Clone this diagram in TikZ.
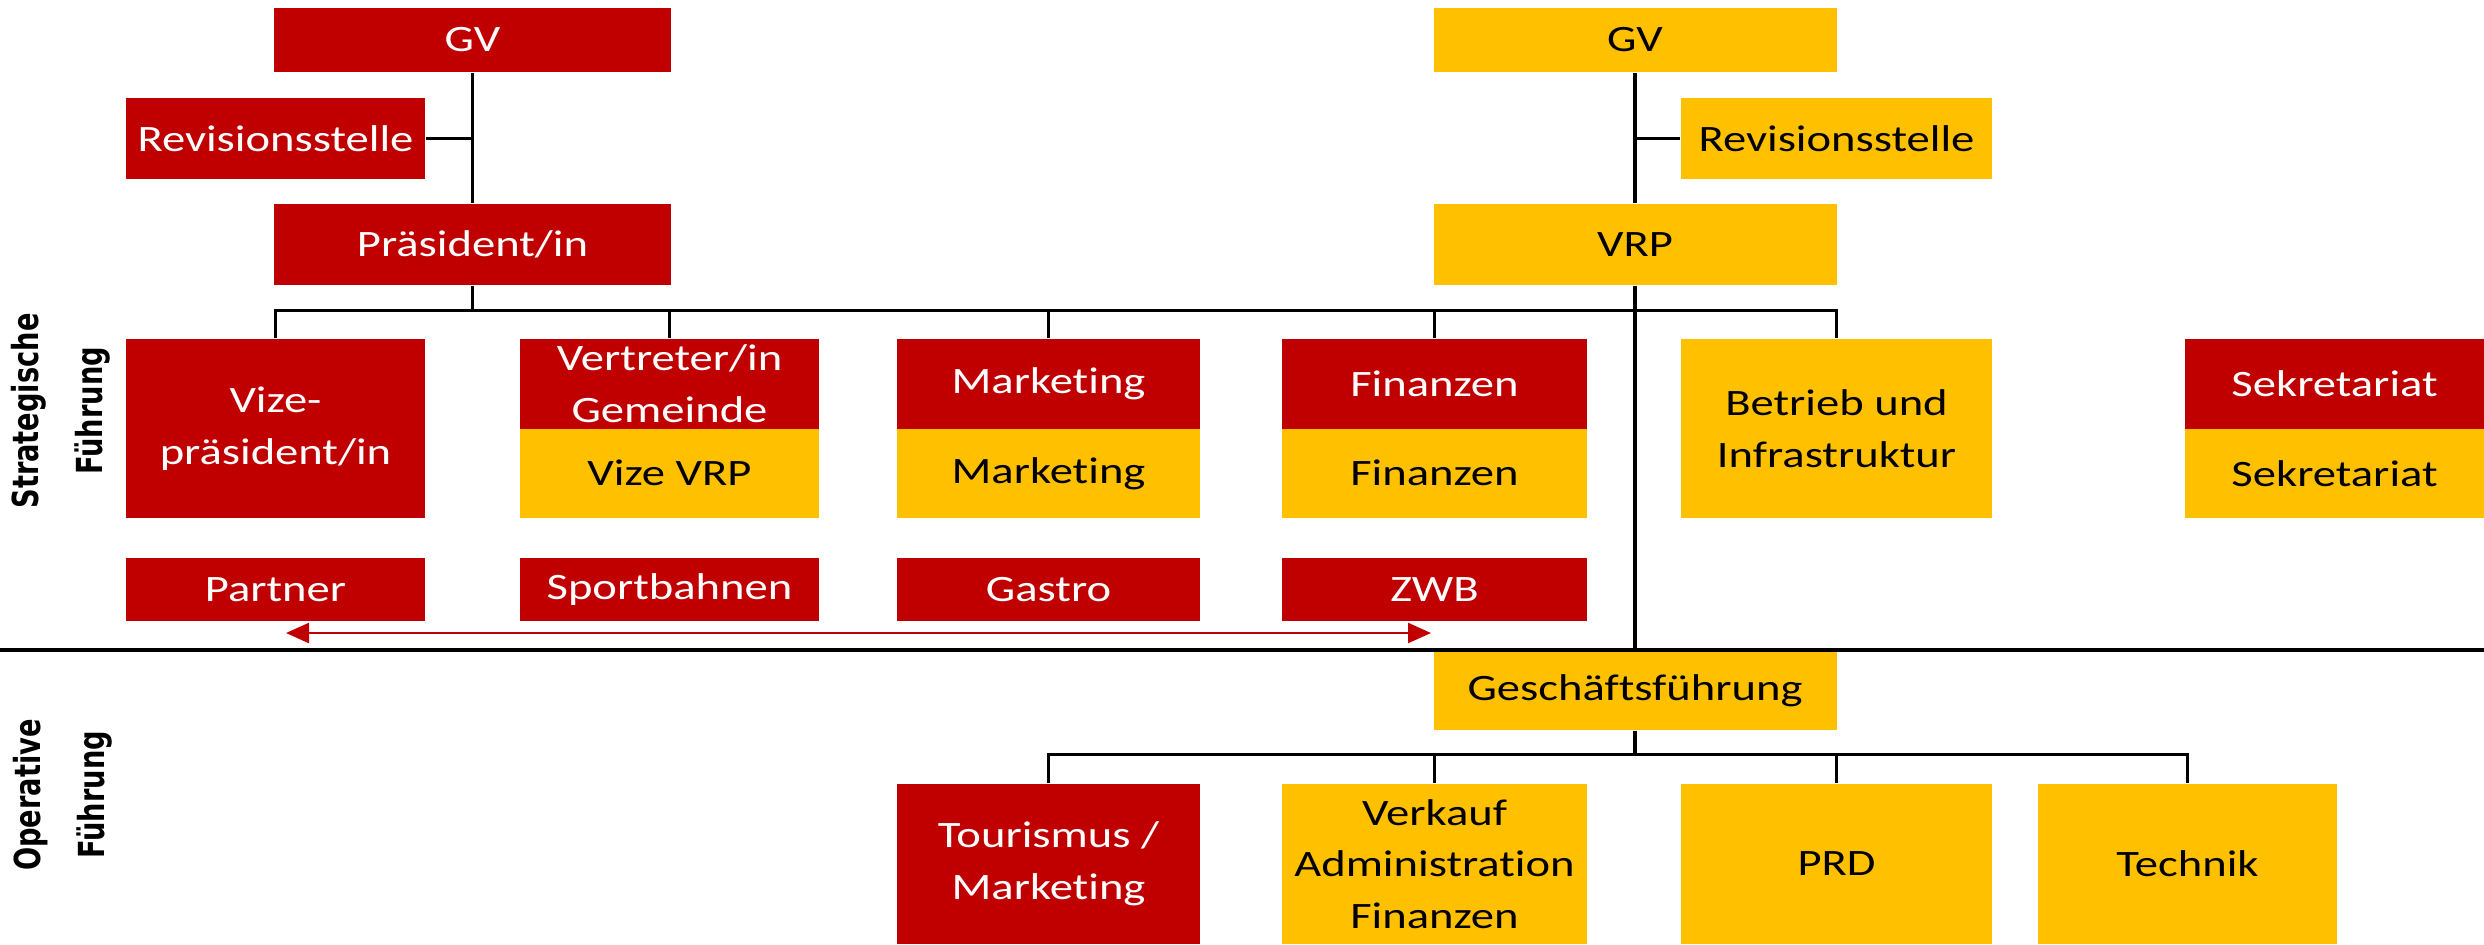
\documentclass[tikz,border=0pt]{standalone}
\usepackage{fontspec}
\setmainfont[FakeStretch=1.25, Ligatures=NoCommon]{Carlito}
\newfontfamily\sidefont[FakeStretch=0.76]{DejaVu Sans}
\usepackage{xcolor}
\usetikzlibrary{arrows.meta}

\definecolor{orgred}{HTML}{C00000}
\definecolor{orgyellow}{HTML}{FFC000}

\tikzset{
  box/.style={rectangle, inner sep=0pt, align=center, font=\fontsize{10.6}{14.7}\selectfont},
  redbox/.style={box, fill=orgred, text=white},
  yellowbox/.style={box, fill=orgyellow, text=black},
  boxw/.style={minimum width=#1*0.01cm},
  boxh/.style={minimum height=#1*0.01cm},
  link/.style={draw=black, line width=1pt},
  sidelabel/.style={rotate=90, align=center, font=\sidefont\bfseries\fontsize{10.2}{18.2}\selectfont},
}

\begin{document}
\begin{tikzpicture}[x=0.01cm, y=-0.01cm]
    \useasboundingbox (0,0) rectangle (2484,944);

    % Left: association
    \node[redbox, boxw=397, boxh=64] (gvL) at (472.5,40) {GV};
    \node[redbox, boxw=299, boxh=81] (revL) at (275.5,138.5) {Revisionsstelle};
    \node[redbox, boxw=397, boxh=81] (praesL) at (472.5,244.5) {Präsident/in};

    % Right: company
    \node[yellowbox, boxw=403, boxh=64] (gvR) at (1635,40) {GV};
    \node[yellowbox, boxw=311, boxh=81] (revR) at (1836.5,138.5) {Revisionsstelle};
    \node[yellowbox, boxw=403, boxh=81] (vrp) at (1635,244.5) {VRP};

    % Board members
    \node[redbox, boxw=299, boxh=179] (vize) at (275.5,428.5) {Vize-\\präsident/in};
    \node[redbox, boxw=299, boxh=89.5] (vertreter) at (669.5,383.75) {Vertreter/in\\Gemeinde};
    \node[yellowbox, boxw=299, boxh=89.5] (vizevrp) at (669.5,473.25) {Vize VRP};
    \node[redbox, boxw=303, boxh=89.5] (marketingA) at (1048.5,383.75) {Marketing};
    \node[yellowbox, boxw=303, boxh=89.5] (marketingB) at (1048.5,473.25) {Marketing};
    \node[redbox, boxw=305, boxh=89.5] (finanzenA) at (1434.5,383.75) {Finanzen};
    \node[yellowbox, boxw=305, boxh=89.5] (finanzenB) at (1434.5,473.25) {Finanzen};
    \node[yellowbox, boxw=311, boxh=179] (betrieb) at (1836.5,428.5) {Betrieb und\\Infrastruktur};
    \node[redbox, boxw=299, boxh=89.5] (sekretariatA) at (2334.5,383.75) {Sekretariat};
    \node[yellowbox, boxw=299, boxh=89.5] (sekretariatB) at (2334.5,473.25) {Sekretariat};

    % Divisions
    \node[redbox, boxw=299, boxh=63] (partner) at (275.5,589.5) {Partner};
    \node[redbox, boxw=299, boxh=63] (sportbahnen) at (669.5,589.5) {Sportbahnen};
    \node[redbox, boxw=303, boxh=63] (gastro) at (1048.5,589.5) {Gastro};
    \node[redbox, boxw=305, boxh=63] (zwb) at (1434.5,589.5) {ZWB};

    % Operative level
    \node[yellowbox, boxw=403, boxh=78] (gf) at (1635,691) {Geschäftsführung};
    \node[redbox, boxw=303, boxh=160] (tourismus) at (1048.5,864) {Tourismus /\\Marketing};
    \node[yellowbox, boxw=305, boxh=160] (verkauf) at (1434.5,864) {Verkauf\\Administration\\Finanzen};
    \node[yellowbox, boxw=311, boxh=160] (prd) at (1836.5,864) {PRD};
    \node[yellowbox, boxw=299, boxh=160] (technik) at (2187.5,864) {Technik};

    % Side labels
    \node[sidelabel] (strat) at (61,411) {Strategische\\Führung};
    \node[sidelabel] (oper) at (63,795) {Operative\\Führung};

    % Connectors
    \draw[link] (gvL.south) -- (praesL.north);
    \draw[link] (revL.east) -- (revL.east -| gvL.south);
    \draw[link] (gvR.south) -- (vrp.north);
    \draw[link] (revR.west) -- (revR.west -| gvR.south);
    \draw[link] (praesL.south) -- ++(0,26);
    \draw[link] (vize.north) -- ++(0,-28) -| (betrieb.north);
    \foreach \n in {vertreter, marketingA, finanzenA}
        \draw[link] (\n.north) -- ++(0,-28);
    \draw[link] (vrp.south) -- (gf.north);
    \draw[link] (gf.south) -- ++(0,25);
    \draw[link] (tourismus.north) -- ++(0,-29) -| (technik.north);
    \foreach \n in {verkauf, prd}
        \draw[link] (\n.north) -- ++(0,-29);

    % Separator
    \draw[line width=1.1pt] (0,650) -- (2484,650);

    % Cooperation arrow
    \coordinate (arrowL) at (286,633);
    \coordinate (arrowR) at (1431,633);
    \draw[orgred, line width=0.7pt, {Triangle[length=0.23cm,width=0.2cm]}-{Triangle[length=0.23cm,width=0.2cm]}] (arrowL) -- (arrowR);
\end{tikzpicture}
\end{document}
